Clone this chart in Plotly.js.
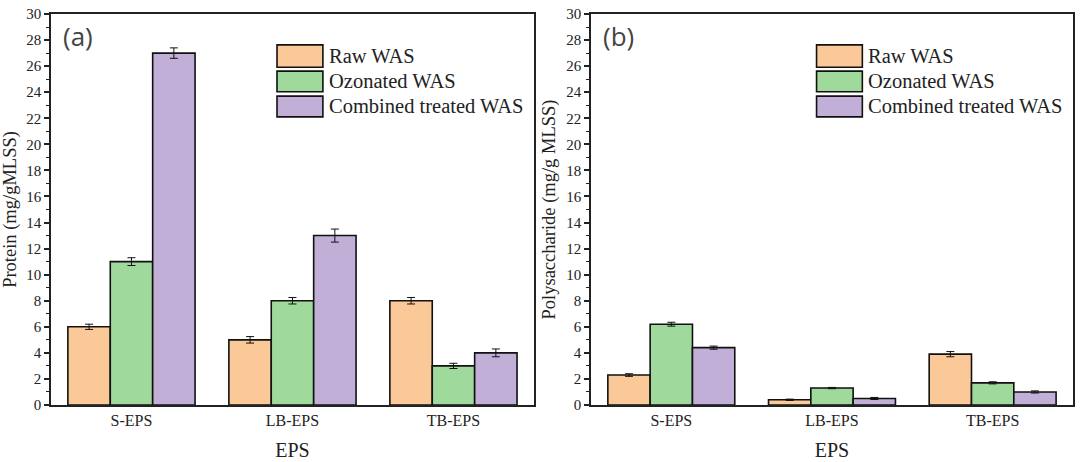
<!DOCTYPE html>
<html>
<head>
<meta charset="utf-8">
<script src="https://cdn.plot.ly/plotly-3.0.1.min.js"></script>
<style>
  html, body { margin: 0; padding: 0; background: white; }
  #chart { width: 1080px; height: 462px; }
</style>
</head>
<body>
<div id="chart"></div>
<script>
// EPS fractions
var categories = ['S-EPS', 'LB-EPS', 'TB-EPS']
var seriesNames = ['Raw WAS', 'Ozonated WAS', 'Combined treated WAS']
var colors = ['#FBC997', '#9FDA9C', '#C2AFD7']

// (a) protein, mg/gMLSS
var proteinRaw = [6.0, 5.0, 8.0]
var proteinOzonated = [11.0, 8.0, 3.0]
var proteinCombined = [27.0, 13.0, 4.0]
var proteinRawErr = [0.2, 0.25, 0.25]
var proteinOzonatedErr = [0.3, 0.25, 0.2]
var proteinCombinedErr = [0.4, 0.5, 0.3]

// (b) polysaccharide, mg/g MLSS
var polyRaw = [2.3, 0.4, 3.9]
var polyOzonated = [6.2, 1.3, 1.7]
var polyCombined = [4.4, 0.5, 1.0]
var polyRawErr = [0.1, 0.05, 0.2]
var polyOzonatedErr = [0.15, 0.05, 0.08]
var polyCombinedErr = [0.12, 0.08, 0.08]

var serif = 'Liberation Serif'

function barTrace(name, y, err, color, xa, ya) {
    return {
        type: 'bar',
        name: name,
        x: categories,
        y: y,
        xaxis: xa,
        yaxis: ya,
        showlegend: false,
        marker: { color: color, line: { color: '#111', width: 1.6 } },
        error_y: { type: 'data', array: err, visible: true, color: '#111', thickness: 1, width: 4 }
    }
}

var data = [
    barTrace(seriesNames[0], proteinRaw, proteinRawErr, colors[0], 'x', 'y'),
    barTrace(seriesNames[1], proteinOzonated, proteinOzonatedErr, colors[1], 'x', 'y'),
    barTrace(seriesNames[2], proteinCombined, proteinCombinedErr, colors[2], 'x', 'y'),
    barTrace(seriesNames[0], polyRaw, polyRawErr, colors[0], 'x2', 'y2'),
    barTrace(seriesNames[1], polyOzonated, polyOzonatedErr, colors[1], 'x2', 'y2'),
    barTrace(seriesNames[2], polyCombined, polyCombinedErr, colors[2], 'x2', 'y2')
]

function xAxis(domain, anchor) {
    return {
        domain: domain,
        anchor: anchor,
        range: [-0.5, 2.5],
        showline: true,
        mirror: true,
        linecolor: '#222',
        linewidth: 1.5,
        ticks: '',
        showgrid: false,
        tickfont: { family: serif, size: 16, color: '#222' },
        title: { text: 'EPS', font: { family: serif, size: 20, color: '#222' }, standoff: 15 }
    }
}

function yAxis(title, anchor) {
    return {
        anchor: anchor,
        domain: [0, 1],
        range: [0, 30],
        dtick: 2,
        showline: true,
        mirror: true,
        linecolor: '#222',
        linewidth: 1.5,
        ticks: 'outside',
        ticklen: 5,
        tickwidth: 1.5,
        tickcolor: '#222',
        showgrid: false,
        zeroline: false,
        minor: { dtick: 1, ticks: 'outside', ticklen: 3, tickwidth: 1.2, tickcolor: '#222' },
        tickfont: { family: serif, size: 15, color: '#222' },
        title: { text: title, font: { family: serif, size: 18.5, color: '#222' }, standoff: 6 }
    }
}

var shapes = []
var annotations = []
var boxTops = [0.921, 0.854, 0.790]
var boxBottoms = [0.864, 0.801, 0.737]
var textY = [0.893, 0.829, 0.765]

var panels = [['x', 'y', '(a)'], ['x2', 'y2', '(b)']]
panels.forEach(function (p) {
    for (var i = 0; i < seriesNames.length; i++) {
        shapes.push({
            type: 'rect',
            xref: p[0] + ' domain', yref: p[1] + ' domain',
            x0: 0.468, x1: 0.563, y0: boxBottoms[i], y1: boxTops[i],
            fillcolor: colors[i],
            line: { color: '#111', width: 1.6 }
        })
        annotations.push({
            xref: p[0] + ' domain', yref: p[1] + ' domain',
            x: 0.571, y: textY[i], xanchor: 'left', yanchor: 'middle',
            text: seriesNames[i], showarrow: false,
            font: { family: serif, size: 20.5, color: '#222' }
        })
    }
    annotations.push({
        xref: p[0] + ' domain', yref: p[1] + ' domain',
        x: 0.02, y: 0.945, xanchor: 'left', yanchor: 'middle',
        text: p[2], showarrow: false,
        font: { family: 'Open Sans', size: 26, color: '#444' }
    })
})

var layout = {
    width: 1080,
    height: 462,
    margin: { l: 0, r: 0, t: 14, b: 57, pad: 0 },
    paper_bgcolor: 'white',
    plot_bgcolor: 'white',
    font: { family: serif },
    barmode: 'group',
    bargap: 0.21,
    bargroupgap: 0,
    showlegend: false,
    xaxis: xAxis([0.0472, 0.4944], 'y'),
    yaxis: yAxis('Protein (mg/gMLSS)', 'x'),
    xaxis2: xAxis([0.5472, 0.9935], 'y2'),
    yaxis2: yAxis('Polysaccharide (mg/g MLSS)', 'x2'),
    shapes: shapes,
    annotations: annotations
}

var config = { responsive: false, displayModeBar: false }

Plotly.newPlot('chart', data, layout, config)
</script>
</body>
</html>
